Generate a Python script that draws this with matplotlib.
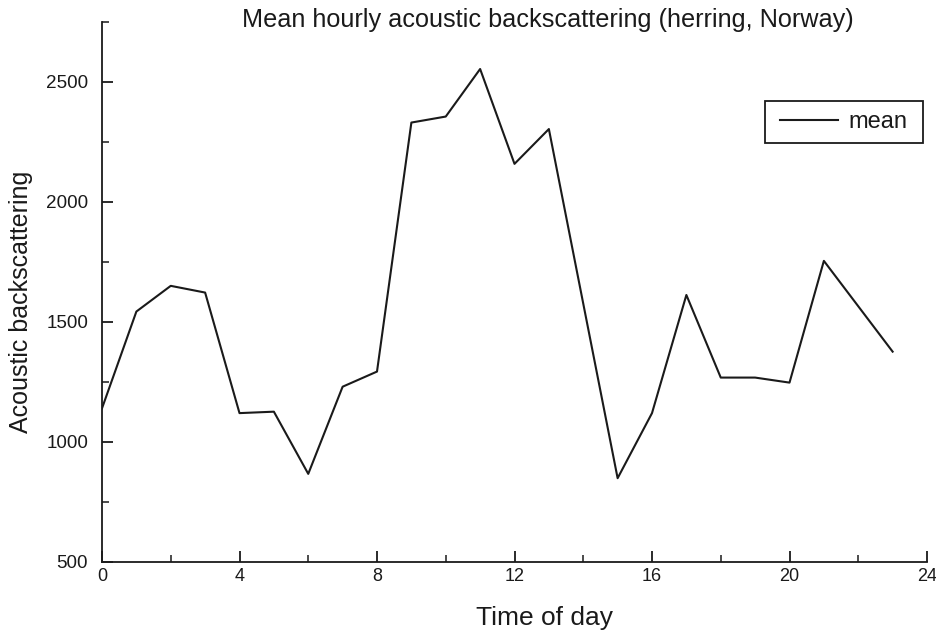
import matplotlib
matplotlib.use("Agg")
import matplotlib.pyplot as plt
from matplotlib.patches import Rectangle
from matplotlib.ticker import MultipleLocator

plt.rcParams['font.family'] = ['Liberation Sans', 'DejaVu Sans']

# Mean acoustic backscattering per hour of the day
hours = list(range(24))
mean_backscatter = [1140, 1543, 1650, 1622, 1120, 1126, 867, 1230,
                    1293, 2330, 2355, 2553, 2158, 2303, 1576, 849,
                    1120, 1612, 1268, 1268, 1247, 1754, 1565, 1376]

x_major = [0, 4, 8, 12, 16, 20, 24]
y_major = [500, 1000, 1500, 2000, 2500]

ink = '#1a1a1a'
W, H = 937, 632

fig = plt.figure(figsize=(W / 100, H / 100), dpi=100)
ax = fig.add_axes([102 / W, 1 - 562 / H, 825 / W, 540.3 / H])

ax.plot(hours, mean_backscatter, color=ink, linewidth=1.5, label='mean')

ax.set_xlim(0, 24)
ax.set_ylim(500, 2750)
ax.set_xticks(x_major)
ax.set_yticks(y_major)
ax.xaxis.set_minor_locator(MultipleLocator(2))
ax.yaxis.set_minor_locator(MultipleLocator(250))

for side in ('top', 'right'):
    ax.spines[side].set_visible(False)
for side in ('left', 'bottom'):
    ax.spines[side].set_linewidth(1.3)
    ax.spines[side].set_color(ink)

ax.tick_params(which='major', direction='in', length=8, width=1.3,
               color=ink, labelcolor=ink)
ax.tick_params(which='minor', direction='in', length=5, width=1.1, color=ink)
ax.tick_params(axis='x', which='major', labelsize=13, pad=4.5)
ax.tick_params(axis='y', which='major', labelsize=13.6, pad=10)

ax.set_xlabel('Time of day', fontsize=19, color=ink, va='baseline')
ax.xaxis.set_label_coords((544 - 102) / 825, (562 - 625) / 540.3)
ax.set_ylabel('Acoustic backscattering', fontsize=18, color=ink, va='baseline')
ax.yaxis.set_label_coords((28 - 102) / 825, 0.482)

fig.text(548 / W, 1 - 26.7 / H,
         'Mean hourly acoustic backscattering (herring, Norway)',
         ha='center', va='baseline', fontsize=18.2, color=ink)

# legend frame with roomy side padding
box_l, box_r, box_t, box_b = 765, 923, 101, 143
ax.add_patch(Rectangle((box_l / W, 1 - box_b / H),
                       (box_r - box_l) / W, (box_b - box_t) / H,
                       transform=fig.transFigure, clip_on=False, fill=True,
                       facecolor='white', edgecolor=ink, linewidth=1.3,
                       zorder=3))
leg = ax.legend(loc='center', bbox_to_anchor=((box_l + box_r) / 2 / W,
                                              1 - (box_t + box_b) / 2 / H),
                bbox_transform=fig.transFigure, frameon=False,
                fontsize=17, handlelength=2.45, handletextpad=0.45,
                borderpad=0, borderaxespad=0)
leg.set_zorder(5)
for t in leg.get_texts():
    t.set_color(ink)

fig.savefig('out.png', dpi=100, facecolor='white')
